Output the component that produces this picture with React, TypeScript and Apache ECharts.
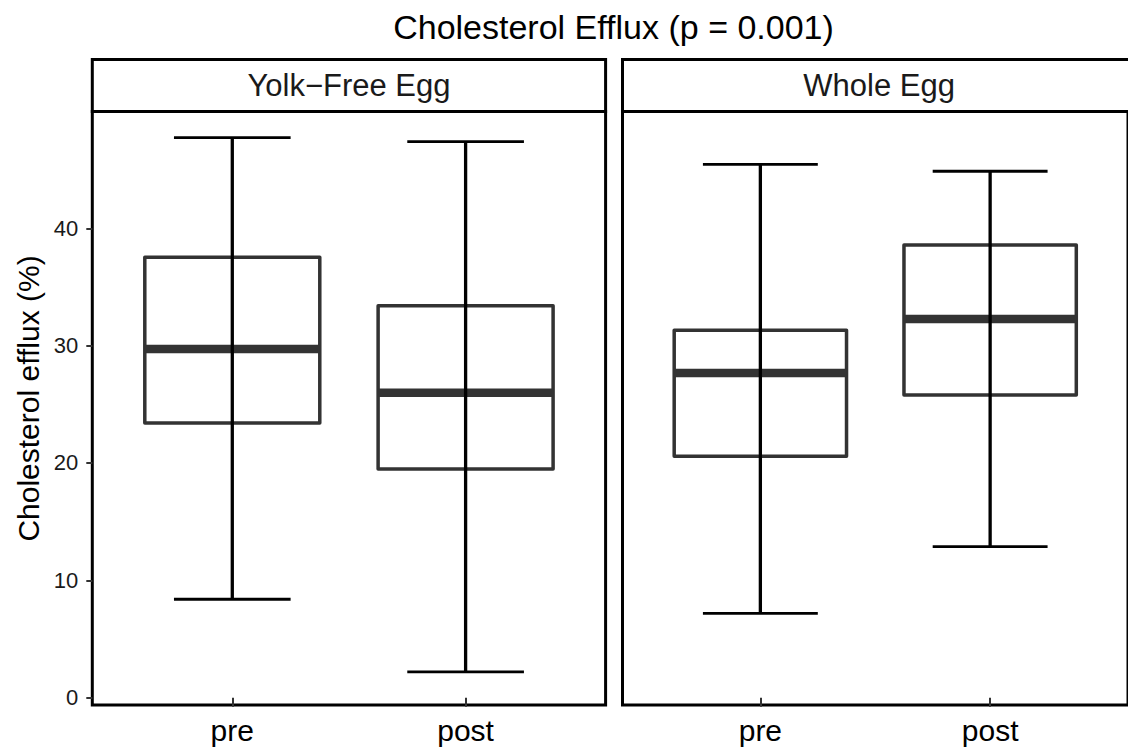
import React, { useEffect, useRef } from "react";
import * as echarts from "echarts";

const categories = ["pre", "post"];
const panelTitles = ["Yolk−Free Egg", "Whole Egg"];
// [min, q1, median, q3, max] for pre, post
const yolkFreeStats = [
  [8.39, 23.41, 29.71, 37.53, 47.72],
  [2.2, 19.49, 25.99, 33.4, 47.38],
];
const wholeEggStats = [
  [7.19, 20.57, 27.67, 31.31, 45.45],
  [12.87, 25.79, 32.27, 38.58, 44.86],
];
const yTicks = [0, 10, 20, 30, 40];
const titleText = "Cholesterol Efflux (p = 0.001)";
const yTitle = "Cholesterol efflux (%)";

const FONT = "'Liberation Sans', Arial, Helvetica, sans-serif";

const PANEL_TOP = 111.5;
const PANEL_H = 593.5;
const PANEL_W = 513.3;
const PANEL_LEFTS = [92.3, 622.5];
const STRIP_TOP = 59.5;

function renderBox(params: any, api: any) {
  const x = api.value(0);
  const mn = api.value(1);
  const q1 = api.value(2);
  const md = api.value(3);
  const q3 = api.value(4);
  const mx = api.value(5);
  const pMin = api.coord([x, mn]);
  const pQ1 = api.coord([x, q1]);
  const pMed = api.coord([x, md]);
  const pQ3 = api.coord([x, q3]);
  const pMax = api.coord([x, mx]);
  const cx = pMed[0];
  const half = api.size([0.375, 0])[0];
  const capHalf = api.size([0.25, 0])[0];
  return {
    type: "group",
    children: [
      {
        type: "rect",
        shape: { x: cx - half, y: pQ3[1], width: 2 * half, height: pQ1[1] - pQ3[1] },
        style: { fill: "#ffffff", stroke: "#333333", lineWidth: 3.5, lineJoin: "round" },
      },
      {
        type: "line",
        shape: { x1: cx - half, y1: pMed[1], x2: cx + half, y2: pMed[1] },
        style: { stroke: "#333333", lineWidth: 8.5, lineCap: "butt" },
      },
      {
        type: "line",
        shape: { x1: cx, y1: pMax[1], x2: cx, y2: pMin[1] },
        style: { stroke: "#000000", lineWidth: 3.3 },
      },
      {
        type: "line",
        shape: { x1: cx - capHalf, y1: pMax[1], x2: cx + capHalf, y2: pMax[1] },
        style: { stroke: "#000000", lineWidth: 2.8 },
      },
      {
        type: "line",
        shape: { x1: cx - capHalf, y1: pMin[1], x2: cx + capHalf, y2: pMin[1] },
        style: { stroke: "#000000", lineWidth: 2.8 },
      },
    ],
  };
}

export default function App() {
  const ref = useRef<HTMLDivElement>(null);
  useEffect(() => {
    if (!ref.current) return;
    const chart = echarts.init(ref.current, null, { renderer: "svg" });
    const panels = [yolkFreeStats, wholeEggStats];
    const grids = PANEL_LEFTS.map((l) => ({
      left: l,
      top: PANEL_TOP,
      width: PANEL_W,
      height: PANEL_H,
      show: true,
      borderColor: "#000000",
      borderWidth: 3,
      backgroundColor: "#ffffff",
    }));
    const xAxes = PANEL_LEFTS.map((_, i) => ({
      type: "value",
      gridIndex: i,
      min: 0.4,
      max: 2.6,
      axisLine: { show: false },
      splitLine: { show: false },
      axisTick: {
        show: true,
        customValues: [1, 2],
        length: 9,
        lineStyle: { color: "#333333", width: 2 },
      },
      axisLabel: {
        show: true,
        customValues: [1, 2],
        formatter: (v: number) => categories[Math.round(v) - 1] || "",
        fontSize: 30,
        fontFamily: FONT,
        color: "#000000",
        margin: 10,
      },
    }));
    const yAxes = PANEL_LEFTS.map((_, i) => ({
      type: "value",
      gridIndex: i,
      min: -0.62,
      max: 49.95,
      axisLine: { show: false },
      splitLine: { show: false },
      axisTick: {
        show: i === 0,
        customValues: yTicks,
        length: 6,
        lineStyle: { color: "#333333", width: 2 },
      },
      axisLabel: {
        show: i === 0,
        customValues: yTicks,
        fontSize: 22,
        fontFamily: FONT,
        color: "#1a1a1a",
        margin: 14,
      },
    }));
    const series = panels.map((stats, i) => ({
      type: "custom",
      xAxisIndex: i,
      yAxisIndex: i,
      renderItem: renderBox,
      encode: { x: 0, y: [1, 2, 3, 4, 5] },
      data: stats.map((s, k) => [k + 1, ...s]),
      z: 5,
    }));
    const graphics: any[] = [];
    PANEL_LEFTS.forEach((l, i) => {
      graphics.push({
        type: "rect",
        shape: { x: l, y: STRIP_TOP, width: PANEL_W, height: PANEL_TOP - STRIP_TOP },
        style: { fill: "#ffffff", stroke: "#000000", lineWidth: 3 },
        z: 10,
      });
      graphics.push({
        type: "text",
        x: l + PANEL_W / 2,
        y: (STRIP_TOP + PANEL_TOP) / 2,
        style: {
          text: panelTitles[i],
          fontSize: 31,
          fontFamily: FONT,
          fill: "#1a1a1a",
          align: "center",
          verticalAlign: "middle",
        },
        z: 11,
      });
    });
    graphics.push({
      type: "text",
      x: 613.5,
      y: 27,
      style: {
        text: titleText,
        fontSize: 34,
        fontFamily: FONT,
        fill: "#000000",
        align: "center",
        verticalAlign: "middle",
      },
    });
    graphics.push({
      type: "text",
      x: 28,
      y: 398.5,
      rotation: Math.PI / 2,
      style: {
        text: yTitle,
        fontSize: 30,
        fontFamily: FONT,
        fill: "#000000",
        align: "center",
        verticalAlign: "middle",
      },
    });
    chart.setOption({
      animation: false,
      backgroundColor: "#ffffff",
      grid: grids,
      xAxis: xAxes,
      yAxis: yAxes,
      series,
      graphic: graphics,
    });
    return () => chart.dispose();
  }, []);
  return (
    <div
      ref={ref}
      style={{ position: "fixed", left: 0, top: 0, width: 1128, height: 754 }}
    />
  );
}
